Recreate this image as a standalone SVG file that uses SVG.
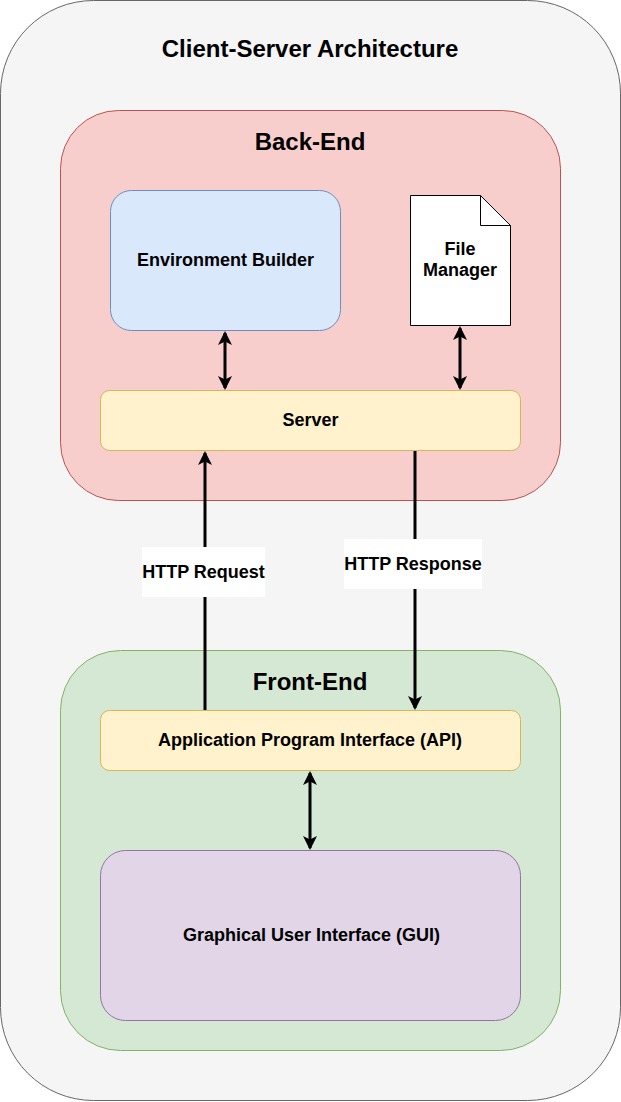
<svg xmlns="http://www.w3.org/2000/svg" width="621" height="1102" viewBox="0 0 621 1102">
<style>
text{font-family:"Liberation Sans",Arial,sans-serif;font-weight:bold;fill:#000;text-anchor:middle;dominant-baseline:central}
.t{font-size:24px}
.h{font-size:24px}
.n{font-size:18px}
.c{stroke:#000;stroke-width:3;fill:none}
</style>
<defs>
<marker id="a" viewBox="0 0 14 14" refX="12" refY="7" markerWidth="14" markerHeight="14" orient="auto-start-reverse" markerUnits="userSpaceOnUse">
<path d="M0,0 L14,7 L0,14 L3.5,7 Z" fill="#000"/>
</marker>
</defs>
<g id="outer">
<rect x="0.5" y="0.5" width="620" height="1100" rx="93" fill="#f5f5f5" stroke="#666"/>
<text class="t" x="310" y="48">Client-Server Architecture</text>
</g>
<g id="backend">
<rect x="60.5" y="110.5" width="500" height="390" rx="58" fill="#f8cecc" stroke="#b85450"/>
<text class="h" x="310" y="141">Back-End</text>
</g>
<g id="frontend">
<rect x="60.5" y="650.5" width="500" height="400" rx="60" fill="#d5e8d4" stroke="#82b366"/>
<text class="h" x="310" y="681">Front-End</text>
</g>
<g id="envbuilder">
<rect x="110.5" y="190.5" width="230" height="140" rx="21" fill="#dae8fc" stroke="#6c8ebf"/>
<text class="n" x="225.5" y="260">Environment Builder</text>
</g>
<g id="filemanager">
<path d="M410.5,195.5 H480.5 L510.5,225.5 V325.5 H410.5 Z" fill="#fff" stroke="#000"/>
<path d="M480.5,195.5 V225.5 H510.5" fill="none" stroke="#000"/>
<text class="n" x="460" y="249">File</text>
<text class="n" x="460" y="270">Manager</text>
</g>
<g id="server">
<rect x="100.5" y="390.5" width="420" height="60" rx="9" fill="#fff2cc" stroke="#d6b656"/>
<text class="n" x="310.5" y="420">Server</text>
</g>
<g id="api">
<rect x="100.5" y="710.5" width="420" height="60" rx="9" fill="#fff2cc" stroke="#d6b656"/>
<text class="n" x="310" y="740">Application Program Interface (API)</text>
</g>
<g id="gui">
<rect x="100.5" y="850.5" width="420" height="170" rx="25" fill="#e1d5e7" stroke="#9673a6"/>
<text class="n" x="311.5" y="935">Graphical User Interface (GUI)</text>
</g>
<g id="connectors">
<line class="c" x1="225" y1="333" x2="225" y2="388" marker-start="url(#a)" marker-end="url(#a)"/>
<line class="c" x1="460" y1="328" x2="460" y2="388" marker-start="url(#a)" marker-end="url(#a)"/>
<line class="c" x1="205" y1="710" x2="205" y2="453" marker-end="url(#a)"/>
<line class="c" x1="415" y1="451" x2="415" y2="708" marker-end="url(#a)"/>
<line class="c" x1="310" y1="773" x2="310" y2="848" marker-start="url(#a)" marker-end="url(#a)"/>
<rect x="142" y="547" width="123" height="50" fill="#fff"/>
<text class="n" x="203.5" y="572">HTTP Request</text>
<rect x="344" y="539" width="138" height="50" fill="#fff"/>
<text class="n" x="413" y="564">HTTP Response</text>
</g>
</svg>
